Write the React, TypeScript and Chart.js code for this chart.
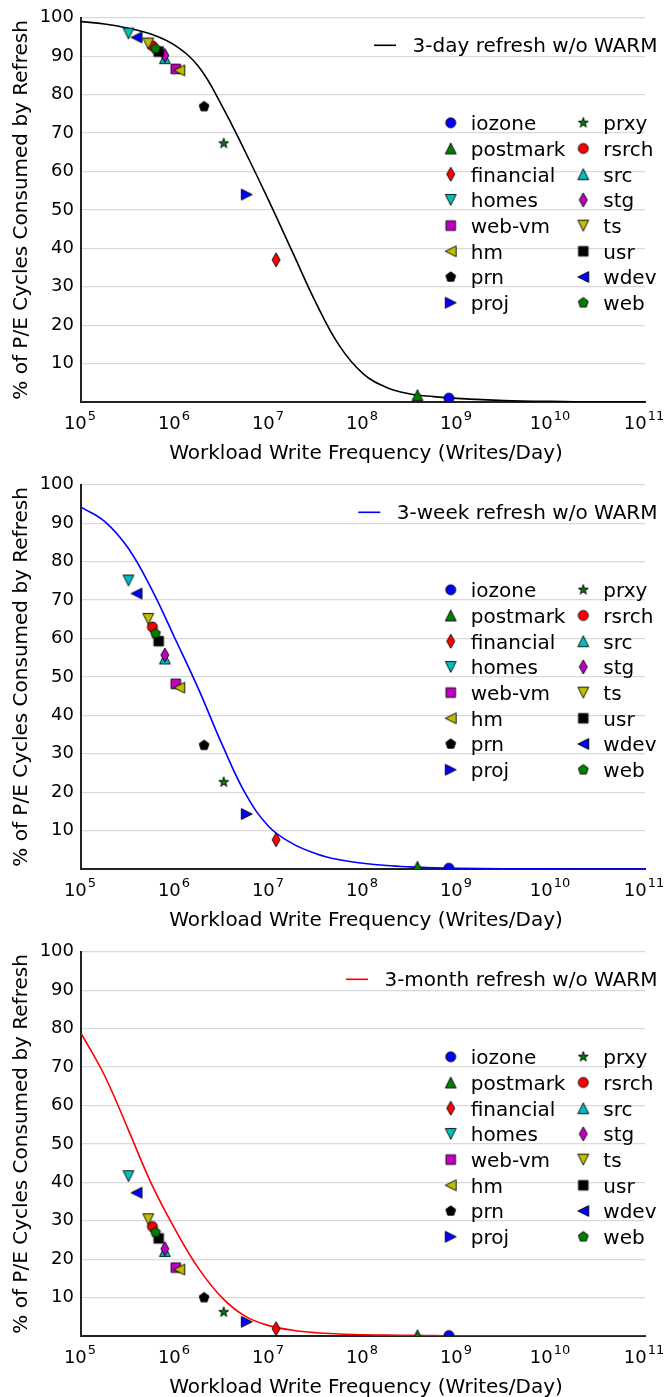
import React, { useEffect, useRef } from 'react';
import { Chart, registerables } from 'chart.js';

Chart.register(...registerables);

// ---------------- data ----------------
const WORKLOADS = ['iozone', 'postmark', 'financial', 'homes', 'web-vm', 'hm', 'prn', 'proj',
  'prxy', 'rsrch', 'src', 'stg', 'ts', 'usr', 'wdev', 'web'];

// workload write frequency (writes/day)
const WRITE_FREQ = [8.2e8, 3.8e8, 1.19e7, 3.2e5, 1.02e6, 1.11e6, 2.04e6, 5.8e6,
  3.3e6, 5.75e5, 7.8e5, 7.8e5, 5.2e5, 6.7e5, 3.9e5, 6.2e5];

// % of P/E cycles consumed by refresh, per workload
const PCT_3DAY = [1.0, 1.8, 37.0, 95.9, 86.7, 86.3, 76.9, 54.0,
  67.3, 92.7, 89.5, 90.2, 93.3, 91.2, 94.9, 92.0];
const PCT_3WEEK = [0.2, 0.6, 7.6, 75.1, 48.2, 47.2, 32.2, 14.3,
  22.6, 63.0, 54.8, 55.7, 65.1, 59.3, 71.7, 61.3];
const PCT_3MONTH = [0.1, 0.2, 1.9, 41.6, 17.8, 17.3, 10.0, 3.7,
  6.2, 28.5, 22.1, 22.7, 30.4, 25.4, 37.3, 27.0];

// refresh curves
const CURVE_X = [1e5, 1.78e5, 3.16e5, 5.62e5, 1e6, 1.78e6, 3.16e6, 5.62e6, 1e7, 1.78e7, 3.16e7,
  5.62e7, 1e8, 1.78e8, 3.16e8, 5.62e8, 1e9, 3.16e9, 1e10, 3.16e10, 1e11];
const CURVE_3DAY = [99.0, 98.4, 97.3, 95.7, 92.8, 87.3, 77.1, 65.0, 52.3, 39.0, 25.8,
  14.6, 7.4, 3.8, 2.1, 1.4, 0.95, 0.4, 0.15, 0.05, 0.02];
const CURVE_3WEEK = [94.2, 90.5, 83.6, 72.9, 60.0, 46.8, 32.5, 19.6, 11.0, 6.6, 4.0,
  2.4, 1.5, 0.9, 0.55, 0.33, 0.2, 0.07, 0.02, 0.01, 0];
const CURVE_3MONTH = [78.8, 67.8, 53.9, 39.6, 27.8, 17.6, 10.0, 5.1, 2.7, 1.5, 0.85,
  0.52, 0.33, 0.22, 0.15, 0.1, 0.06, 0.03, 0.01, 0, 0];

const CURVE_LABELS = ['3-day refresh w/o WARM', '3-week refresh w/o WARM', '3-month refresh w/o WARM'];
const Y_TICKS = [10, 20, 30, 40, 50, 60, 70, 80, 90, 100];
const X_EXPONENTS = [5, 6, 7, 8, 9, 10, 11];
const X_TITLE = 'Workload Write Frequency (Writes/Day)';
const Y_TITLE = '% of P/E Cycles Consumed by Refresh';

// ---------------- styles ----------------
const FONT = "'DejaVu Sans'";
const CURVE_COLORS = ['#000000', '#0000ff', '#ff0000'];
const MARKER_SHAPES = ['circle', 'triUp', 'thinDiamond', 'triDown', 'square', 'triLeft', 'pentagon', 'triRight',
  'star', 'circle', 'triUp', 'thinDiamond', 'triDown', 'square', 'triLeft', 'pentagon'];
const MARKER_COLORS = ['#0000ff', '#008000', '#ff0000', '#00bfbf', '#bf00bf', '#bfbf00', '#000000', '#0000ff',
  '#008000', '#ff0000', '#00bfbf', '#bf00bf', '#bfbf00', '#000000', '#0000ff', '#008000'];

const CANVAS_H = [466, 466, 463];
const CANVAS_TOP = [0, 467, 934];
const XAXIS_H = [64, 64, 61];

const SERIES = [
  { curve: CURVE_3DAY, points: PCT_3DAY },
  { curve: CURVE_3WEEK, points: PCT_3WEEK },
  { curve: CURVE_3MONTH, points: PCT_3MONTH },
];

function makeMarker(shape: string, color: string): HTMLCanvasElement {
  const S = 18;
  const c = document.createElement('canvas');
  c.width = S;
  c.height = S;
  const ctx = c.getContext('2d')!;
  const cx = S / 2;
  const cy = S / 2;
  const h = 5.4;
  ctx.beginPath();
  switch (shape) {
    case 'circle':
      ctx.arc(cx, cy, 5, 0, Math.PI * 2);
      break;
    case 'square':
      ctx.rect(cx - 4.8, cy - 4.8, 9.6, 9.6);
      break;
    case 'triUp':
      ctx.moveTo(cx, cy - h); ctx.lineTo(cx - h, cy + h); ctx.lineTo(cx + h, cy + h);
      break;
    case 'triDown':
      ctx.moveTo(cx, cy + h); ctx.lineTo(cx - h, cy - h); ctx.lineTo(cx + h, cy - h);
      break;
    case 'triLeft':
      ctx.moveTo(cx - h, cy); ctx.lineTo(cx + h, cy - h); ctx.lineTo(cx + h, cy + h);
      break;
    case 'triRight':
      ctx.moveTo(cx + h, cy); ctx.lineTo(cx - h, cy - h); ctx.lineTo(cx - h, cy + h);
      break;
    case 'thinDiamond':
      ctx.moveTo(cx, cy - 7); ctx.lineTo(cx + 4, cy); ctx.lineTo(cx, cy + 7); ctx.lineTo(cx - 4, cy);
      break;
    case 'pentagon': {
      const r = 5.2;
      for (let i = 0; i < 5; i++) {
        const a = -Math.PI / 2 + (i * 2 * Math.PI) / 5;
        const px = cx + r * Math.cos(a);
        const py = cy + r * Math.sin(a);
        if (i === 0) ctx.moveTo(px, py); else ctx.lineTo(px, py);
      }
      break;
    }
    case 'star': {
      const ro = 5.3;
      const ri = ro * 0.382;
      for (let i = 0; i < 10; i++) {
        const a = -Math.PI / 2 + (i * Math.PI) / 5;
        const r = i % 2 === 0 ? ro : ri;
        const px = cx + r * Math.cos(a);
        const py = cy + r * Math.sin(a);
        if (i === 0) ctx.moveTo(px, py); else ctx.lineTo(px, py);
      }
      break;
    }
  }
  ctx.closePath();
  ctx.fillStyle = color;
  ctx.fill();
  ctx.lineWidth = 0.9;
  ctx.strokeStyle = '#000';
  ctx.stroke();
  return c;
}

function Panel({ idx }: { idx: number }) {
  const ref = useRef<HTMLCanvasElement | null>(null);

  useEffect(() => {
    const s = SERIES[idx];
    const markers = WORKLOADS.map((_, i) => makeMarker(MARKER_SHAPES[i], MARKER_COLORS[i]));
    const color = CURVE_COLORS[idx];

    const datasets: any[] = [
      {
        label: CURVE_LABELS[idx],
        data: CURVE_X.map((x, i) => ({ x, y: s.curve[i] })),
        showLine: true,
        borderColor: color,
        backgroundColor: color,
        borderWidth: 1.6,
        pointRadius: 0,
        fill: false,
        tension: 0.4,
        order: 100,
        clip: 0,
      },
      ...WORKLOADS.map((w, i) => ({
        label: w,
        data: [{ x: WRITE_FREQ[i], y: s.points[i] }],
        showLine: false,
        pointStyle: markers[i],
        pointRadius: 5,
        order: WORKLOADS.length - 1 - i,
        clip: 0,
      })),
    ];

    const overlay = {
      id: 'overlay' + idx,
      afterDraw(chart: any) {
        const { ctx, chartArea: a } = chart;
        const xs = chart.scales.x;
        ctx.save();
        ctx.fillStyle = '#000';
        ctx.textBaseline = 'alphabetic';

        // x tick labels 10^n
        for (const e of X_EXPONENTS) {
          const px = xs.getPixelForValue(Math.pow(10, e));
          ctx.font = `18px ${FONT}`;
          const w1 = ctx.measureText('10').width;
          ctx.font = `13px ${FONT}`;
          const w2 = ctx.measureText(String(e)).width;
          const start = px - (w1 + w2 + 1) / 2 - 1;
          ctx.textAlign = 'left';
          ctx.font = `18px ${FONT}`;
          ctx.fillText('10', start, a.bottom + 27);
          ctx.font = `13px ${FONT}`;
          ctx.fillText(String(e), start + w1 + 1, a.bottom + 17.5);
        }

        // axis titles
        ctx.font = `20px ${FONT}`;
        ctx.textAlign = 'center';
        ctx.fillText(X_TITLE, (a.left + a.right) / 2 + 3, a.bottom + 56.5);
        ctx.save();
        ctx.translate(27, (a.top + a.bottom) / 2);
        ctx.rotate(-Math.PI / 2);
        ctx.fillText(Y_TITLE, 0, 0);
        ctx.restore();

        // curve legend
        ctx.font = `20px ${FONT}`;
        ctx.textAlign = 'right';
        const label = CURVE_LABELS[idx];
        const tw = ctx.measureText(label).width;
        const textRight = 657.5;
        const textStart = textRight - tw;
        const ly = a.top + 27.5;
        ctx.fillText(label, textRight, ly + 6.5);
        ctx.beginPath();
        ctx.moveTo(textStart - 38.5, ly);
        ctx.lineTo(textStart - 16.5, ly);
        ctx.strokeStyle = color;
        ctx.lineWidth = 1.6;
        ctx.stroke();

        // workload legend (two columns, column-major)
        ctx.textAlign = 'left';
        const rows = 8;
        WORKLOADS.forEach((w, i) => {
          const col = Math.floor(i / rows);
          const row = i % rows;
          const cy = a.top + 105 + row * 25.7;
          const mx = col === 0 ? 450.7 : 583.3;
          const tx = col === 0 ? 470.7 : 603.3;
          const m = markers[i];
          ctx.drawImage(m, mx - m.width / 2, cy - m.height / 2);
          ctx.fillStyle = '#000';
          ctx.fillText(w, tx, cy + 7.3);
        });
        ctx.restore();
      },
    };

    const chart = new Chart(ref.current as HTMLCanvasElement, {
      type: 'scatter',
      data: { datasets },
      options: {
        animation: false,
        responsive: false,
        devicePixelRatio: 1,
        events: [],
        layout: { padding: { top: 13, right: 19, left: 0, bottom: 0 } },
        plugins: {
          legend: { display: false },
          tooltip: { enabled: false },
        },
        scales: {
          x: {
            type: 'logarithmic',
            min: 1e5,
            max: 1e11,
            afterFit: (sc: any) => { sc.height = XAXIS_H[idx]; },
            ticks: { display: false },
            grid: { display: false, drawTicks: false },
            border: { display: true, color: '#222', width: 2 },
          },
          y: {
            type: 'linear',
            min: 0,
            max: 100,
            afterFit: (sc: any) => { sc.width = 81; },
            afterBuildTicks: (sc: any) => { sc.ticks = Y_TICKS.map((v) => ({ value: v })); },
            ticks: {
              padding: 7,
              color: '#000',
              font: { family: 'DejaVu Sans', size: 18 },
              callback: (v: any) => String(v),
            },
            grid: { color: '#d9d9d9', lineWidth: 1.3, drawTicks: false },
            border: { display: true, color: '#222', width: 2 },
          },
        },
      } as any,
      plugins: [overlay],
    });
    return () => chart.destroy();
  }, [idx]);

  return (
    <canvas
      ref={ref}
      width={664}
      height={CANVAS_H[idx]}
      style={{ position: 'absolute', left: 0, top: CANVAS_TOP[idx], width: 664, height: CANVAS_H[idx], display: 'block' }}
    />
  );
}

export default function App() {
  return (
    <div style={{ position: 'absolute', left: 0, top: 0, width: 664, height: 1397, overflow: 'hidden', background: '#fff' }}>
      <Panel idx={0} />
      <Panel idx={1} />
      <Panel idx={2} />
    </div>
  );
}
